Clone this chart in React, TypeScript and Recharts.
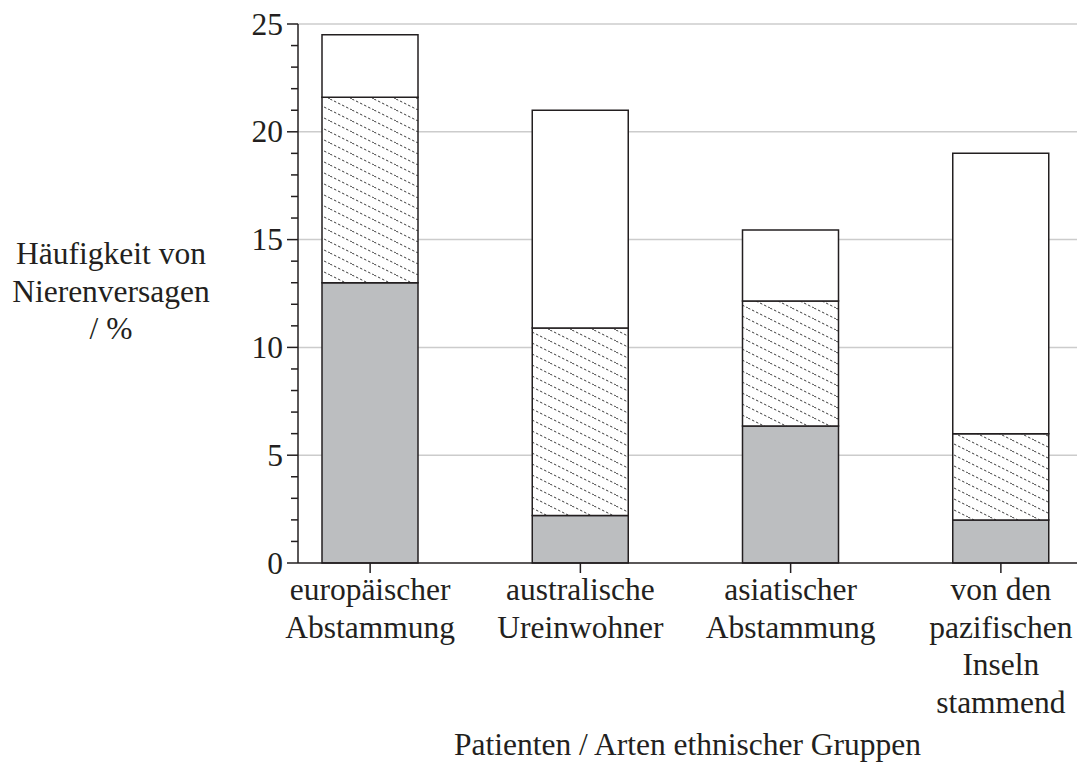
import { BarChart, Bar, XAxis, YAxis, CartesianGrid, Label } from "recharts"

const categories = [
  "europäischer\nAbstammung",
  "australische\nUreinwohner",
  "asiatischer\nAbstammung",
  "von den\npazifischen\nInseln\nstammend",
]
// segment heights in %, bottom to top
const grauAnteil = [13.0, 2.2, 6.35, 2.0]
const schraffiertAnteil = [8.6, 8.7, 5.8, 4.0]
const weissAnteil = [2.9, 10.1, 3.3, 13.0]

const yTicks = [0, 1, 2, 3, 4, 5, 6, 7, 8, 9, 10, 11, 12, 13, 14, 15, 16, 17, 18, 19, 20, 21, 22, 23, 24, 25]
const gridValues = [5, 10, 15, 20, 25]
const yTitle = ["Häufigkeit von", "Nierenversagen", "/ %"]
const xTitle = "Patienten / Arten ethnischer Gruppen"

const INK = "#231f20"
const FONT = "'Liberation Serif', 'Times New Roman', serif"
const FS = 31.5

const data = categories.map((name, i) => ({
  name,
  grau: grauAnteil[i],
  schraffiert: schraffiertAnteil[i],
  weiss: weissAnteil[i],
}))

function YTick({ x, y, payload }: any) {
  const major = payload.value % 5 === 0
  return (
    <g>
      <line x1={x - (major ? 11 : 7)} x2={x} y1={y} y2={y} stroke={INK} strokeWidth={1.5} />
      {major && (
        <text x={x - 15} y={y + 10.5} textAnchor="end" fill={INK} fontFamily={FONT} fontSize={FS}>
          {payload.value}
        </text>
      )}
    </g>
  )
}

function XTick({ x, y, payload }: any) {
  const lines = String(payload.value).split("\n")
  return (
    <text x={x} y={y} textAnchor="middle" fill={INK} fontFamily={FONT} fontSize={FS}>
      {lines.map((l, i) => (
        <tspan key={i} x={x} dy={i === 0 ? 25 : 37.5}>
          {l}
        </tspan>
      ))}
    </text>
  )
}

function YTitle({ viewBox }: any) {
  const cy = viewBox.y + viewBox.height / 2
  return (
    <text x={viewBox.x + 111} y={cy + 8 - 37.5} textAnchor="middle" fill={INK} fontFamily={FONT} fontSize={FS}>
      {yTitle.map((l, i) => (
        <tspan key={i} x={viewBox.x + 111} dy={i === 0 ? 0 : 37.5}>
          {l}
        </tspan>
      ))}
    </text>
  )
}

function XTitle({ viewBox }: any) {
  return (
    <text x={viewBox.x + viewBox.width / 2} y={viewBox.y + 192} textAnchor="middle" fill={INK} fontFamily={FONT} fontSize={FS}>
      {xTitle}
    </text>
  )
}

export default function App() {
  return (
    <div style={{ position: "absolute", left: 0, top: 0, background: "#fff" }}>
      <svg width={0} height={0} style={{ position: "absolute" }}>
        <defs>
          <pattern id="hatch" patternUnits="userSpaceOnUse" width={22} height={11}>
            <rect width={22} height={11} fill="#fff" />
            <line x1={0} y1={0} x2={22} y2={11} stroke="#3a3a3a" strokeWidth={1} strokeDasharray="2.5 2" />
          </pattern>
        </defs>
      </svg>
      <BarChart width={1077} height={767} data={data} margin={{ top: 24, right: 0, bottom: 0, left: 0 }}>
        <CartesianGrid vertical={false} horizontalValues={gridValues} stroke="#cccccc" strokeWidth={1.5} />
        <XAxis
          dataKey="name"
          height={204}
          padding={{ left: -33, right: -29 }}
          axisLine={{ stroke: INK, strokeWidth: 1.5 }}
          tickLine={{ stroke: INK, strokeWidth: 1.5 }}
          tickSize={10}
          tickMargin={2}
          tick={<XTick />}
          interval={0}
        >
          <Label content={<XTitle />} />
        </XAxis>
        <YAxis
          width={298}
          domain={[0, 25]}
          ticks={yTicks}
          interval={0}
          axisLine={{ stroke: INK, strokeWidth: 1.5 }}
          tickLine={false}
          tickSize={0}
          tickMargin={0}
          tick={<YTick />}
        >
          <Label content={<YTitle />} />
        </YAxis>
        <Bar dataKey="grau" stackId="a" barSize={96} fill="#bcbec0" stroke={INK} strokeWidth={1.5} isAnimationActive={false} />
        <Bar dataKey="schraffiert" stackId="a" barSize={96} fill="url(#hatch)" stroke={INK} strokeWidth={1.5} isAnimationActive={false} />
        <Bar dataKey="weiss" stackId="a" barSize={96} fill="#ffffff" stroke={INK} strokeWidth={1.5} isAnimationActive={false} />
      </BarChart>
    </div>
  )
}
